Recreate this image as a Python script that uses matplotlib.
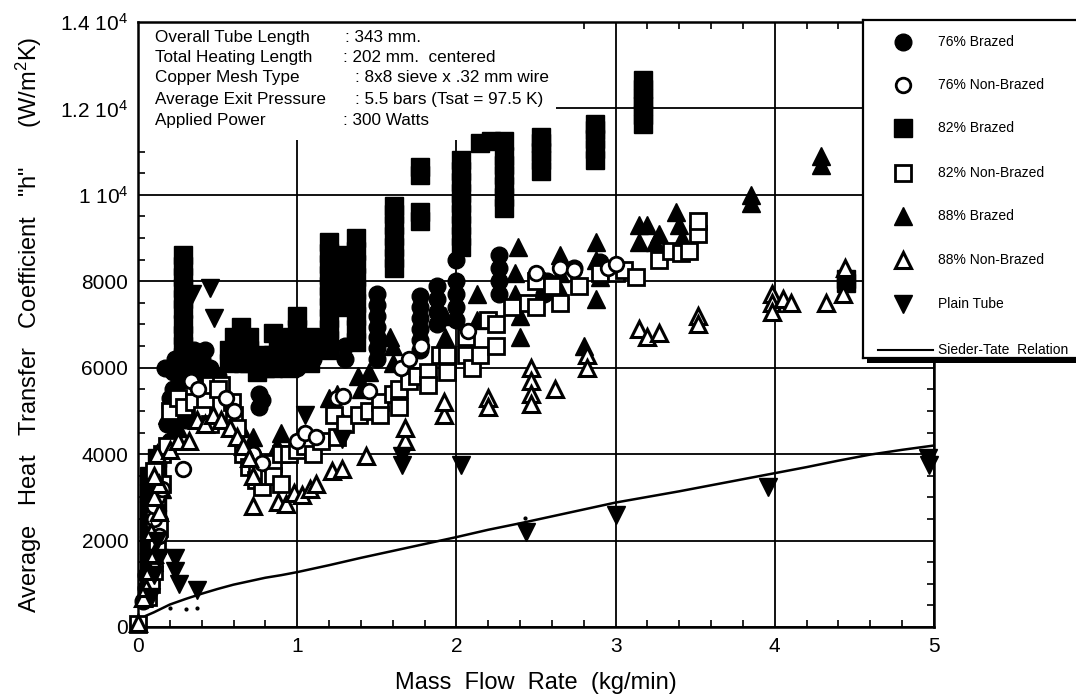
import matplotlib
matplotlib.use("Agg")
import matplotlib.pyplot as plt
from matplotlib.patches import Rectangle

plt.rcParams['font.family'] = ['Liberation Sans', 'DejaVu Sans']
plt.rcParams['mathtext.fontset'] = 'custom'
plt.rcParams['mathtext.rm'] = 'Liberation Sans'
plt.rcParams['mathtext.default'] = 'regular'

# ---- data (x: kg/min, y: W/m2K) ----
b82_x = [0.07, 0.07, 0.07, 0.07, 0.07, 0.07, 0.12, 0.12, 0.12, 0.12, 0.12,
         0.28, 0.28, 0.28, 0.28, 0.28, 0.28, 0.28, 0.28, 0.28, 0.28, 0.28,
         0.57, 0.57, 0.60, 0.65, 0.66, 0.66, 0.62, 0.70, 0.70, 0.70,
         0.75, 0.75, 0.80, 0.80, 0.85, 0.85, 0.85, 0.88, 0.90, 0.90, 0.95, 0.95,
         0.97, 1.00, 1.00, 1.03,
         1.08, 1.08, 1.08,
         1.20, 1.20, 1.20, 1.20, 1.20, 1.20, 1.20, 1.20, 1.20, 1.20, 1.20,
         1.29, 1.29, 1.29, 1.29, 1.29,
         1.37, 1.37, 1.37, 1.37, 1.37, 1.37, 1.37, 1.37, 1.37,
         1.61, 1.61, 1.61, 1.61, 1.61, 1.61, 1.61, 1.77, 1.77, 1.77, 1.77,
         2.03, 2.03, 2.03, 2.03, 2.03, 2.03, 2.03, 2.03, 2.03,
         2.15, 2.22, 2.30, 2.30, 2.30, 2.30, 2.30, 2.30, 2.30,
         2.53, 2.53, 2.53, 2.53, 2.53,
         2.87, 2.87, 2.87, 2.87, 2.87,
         3.17, 3.17, 3.17, 3.17, 3.17, 3.17,
         4.45, 4.45]
b82_y = [1500, 1900, 2300, 2700, 3100, 3500, 2500, 2900, 3300, 3600, 3900,
         6000, 6250, 6500, 6750, 7000, 7350, 7600, 7850, 8100, 8350, 8600,
         6100, 6400, 6700, 6950, 6100, 6400, 6200, 6100, 6400, 6700,
         5900, 6200, 6000, 6300, 6000, 6300, 6800, 6600, 6100, 6400, 6400, 6000,
         6700, 6900, 7200, 6300,
         6100, 6400, 6700,
         6400, 6650, 6900, 7150, 7400, 7650, 7900, 8150, 8400, 8650, 8900,
         7400, 7700, 8000, 8300, 8600,
         6600, 6900, 7200, 7500, 7800, 8100, 8400, 8700, 9000,
         8300, 8550, 8800, 9050, 9300, 9550, 9750, 9400, 9600, 10450, 10650,
         8800, 9050, 9300, 9550, 9800, 10050, 10300, 10550, 10800,
         11200, 11250, 11250, 9700, 9950, 10200, 10450, 10700, 10900,
         10550, 10800, 11000, 11200, 11350,
         10800, 11050, 11300, 11500, 11650,
         11650, 11850, 12050, 12250, 12450, 12650,
         7950, 8050]

b76_x = [0.03, 0.05, 0.05, 0.08, 0.08, 0.10, 0.10, 0.10, 0.12, 0.12,
         0.20, 0.18, 0.20, 0.22, 0.22, 0.23, 0.30, 0.35, 0.40, 0.45, 0.50, 0.27, 0.33, 0.38,
         0.25, 0.28, 0.32, 0.42, 0.36, 0.20, 0.24, 0.30, 0.25, 0.17,
         0.76, 0.76, 0.78,
         0.97, 1.00, 1.05, 1.10, 1.30, 1.30,
         1.50, 1.50, 1.50, 1.50, 1.50, 1.50, 1.50,
         1.77, 1.77, 1.77, 1.77, 1.77, 1.77,
         1.88, 1.88, 1.88, 1.88,
         2.00, 2.00, 2.00, 2.00, 2.00,
         2.27, 2.27, 2.27, 2.27,
         2.55, 2.57, 2.74, 2.90, 2.95]
b76_y = [600, 900, 1200, 1000, 1600, 1400, 1800, 3000, 2300, 3400,
         4300, 4700, 5100, 5500, 5900, 6200, 6300, 6400, 6200, 6000, 5800, 5700, 5200, 5800,
         6000, 6200, 6000, 6400, 6100, 5300, 5200, 4800, 4900, 6000,
         5100, 5400, 5250,
         6200, 6000, 6500, 6200, 6200, 6500,
         6200, 6450, 6700, 6950, 7200, 7450, 7700,
         6400, 6650, 6900, 7150, 7400, 7650,
         7000, 7300, 7600, 7900,
         8500, 8000, 7700, 7400, 7100,
         7700, 8000, 8300, 8600,
         7700, 8000, 8300, 8450, 8200]

b88_x = [0.04, 0.07, 0.10, 0.10, 0.13, 0.15,
         0.20, 0.25, 0.18, 0.65, 0.72, 0.75, 0.87, 0.90,
         1.20, 1.25, 1.25, 1.38, 1.40, 1.45, 1.58, 1.60, 1.60, 1.93, 1.93,
         2.13, 2.13, 2.39, 2.37, 2.37, 2.40, 2.40,
         2.65, 2.65, 2.65, 2.80, 2.88, 2.88, 2.90, 2.88,
         3.15, 3.15, 3.20, 3.25, 3.27, 3.38, 3.40, 3.42,
         3.85, 3.85, 4.29, 4.29]
b88_y = [700, 1100, 1500, 2000, 2700, 3200,
         4400, 4600, 4900, 4600, 4400, 4000, 4200, 4500,
         5300, 5000, 5400, 5800, 5500, 5900, 6700, 6500, 6100, 7200, 6700,
         7700, 7100, 8800, 8200, 7700, 7200, 6700,
         8600, 8200, 7800, 6500, 8900, 8500, 8100, 7600,
         9300, 8900, 9300, 8900, 9100, 9600, 9300, 9000,
         10000, 9800, 10900, 10700]

n76_x = [0.10, 0.12, 0.15, 0.28, 0.10, 0.13, 0.33, 0.38, 0.55, 0.60, 0.72, 0.78,
         1.00, 1.05, 1.12, 1.25, 1.29, 1.45, 1.65, 1.70, 1.78, 2.07,
         2.50, 2.65, 2.74, 2.95, 3.00]
n76_y = [2500, 3000, 3200, 3650, 2800, 2100, 5700, 5500, 5300, 5000, 4000, 3800,
         4300, 4500, 4400, 5300, 5350, 5450, 6000, 6200, 6500, 6850,
         8200, 8300, 8250, 8300, 8400]

n82_x = [0.00, 0.06, 0.08, 0.10, 0.12, 0.10, 0.13, 0.12, 0.15, 0.10, 0.15, 0.18,
         0.20, 0.25, 0.29, 0.35, 0.42, 0.45, 0.52, 0.50, 0.59, 0.40, 0.45, 0.60,
         0.62, 0.66, 0.70, 0.74, 0.78, 0.75,
         0.82, 0.85, 0.85, 0.90, 0.90, 0.95, 1.00, 1.05, 1.10, 1.15, 1.23, 1.25,
         1.30, 1.39, 1.45, 1.52, 1.52, 1.60, 1.64, 1.64, 1.70, 1.75, 1.82, 1.82,
         1.90, 1.94, 1.94, 2.06, 2.06, 2.10, 2.15, 2.20, 2.25, 2.25, 2.35,
         2.45, 2.50, 2.50, 2.60, 2.65, 2.77, 2.90, 3.00, 3.05, 3.13, 3.27,
         3.35, 3.41, 3.46, 3.52, 3.52]
n82_y = [80, 700, 1000, 1300, 1900, 2500, 2300, 3000, 3300, 3600, 4000, 4200,
         5000, 5300, 5100, 5200, 5250, 5600, 5600, 5500, 5200, 4900, 4700, 4900,
         4600, 4000, 3700, 3400, 3250, 3600,
         3500, 3800, 3500, 4000, 3300, 4000, 4100, 4200, 4000, 4300, 4900, 4400,
         4700, 4900, 5000, 5200, 4900, 5400, 5500, 5100, 5700, 5800, 5900, 5600,
         6300, 6300, 5900, 6700, 6300, 6000, 6300, 7100, 7000, 6500, 7400,
         7500, 8000, 7400, 7900, 7500, 7900, 8200, 8200, 8250, 8100, 8500,
         8700, 8650, 8700, 9100, 9400]

n88_x = [0.00, 0.03, 0.05, 0.07, 0.10, 0.08, 0.13, 0.10, 0.13, 0.10, 0.12, 0.20, 0.25, 0.32,
         0.37, 0.42, 0.47, 0.52, 0.58, 0.62, 0.66, 0.70, 0.72, 0.72,
         0.88, 0.93, 0.98, 1.03, 1.08, 1.12, 1.22, 1.28, 1.43, 1.68, 1.68, 1.92, 1.92,
         2.20, 2.20, 2.47, 2.47, 2.47, 2.47, 2.62, 2.82, 2.82,
         3.15, 3.20, 3.27, 3.52, 3.52, 3.98, 3.98, 3.98, 4.05, 4.10, 4.32, 4.43, 4.44]
n88_y = [100, 680, 900, 1300, 1700, 2200, 2650, 3000, 3300, 3500, 4000, 4100, 4300, 4300,
         4800, 4700, 4900, 4800, 4600, 4400, 4200, 3900, 3500, 2800,
         2900, 2850, 3100, 3050, 3200, 3300, 3600, 3650, 3950, 4300, 4600, 4900, 5200,
         5300, 5100, 6000, 5700, 5400, 5150, 5500, 6300, 6000,
         6900, 6700, 6800, 7200, 7000, 7700, 7500, 7300, 7600, 7500, 7500, 7700, 8300]

plain_x = [0.08, 0.10, 0.13, 0.12, 0.23, 0.23, 0.26, 0.37,
           0.34, 0.45, 0.48, 1.05, 1.28, 1.66, 1.66, 2.03,
           2.44, 3.00, 3.96, 4.96, 4.97]
plain_y = [700, 1200, 1600, 2000, 1600, 1300, 1000, 850,
           7700, 7850, 7150, 4900, 4350, 3950, 3750, 3750,
           2200, 2600, 3250, 3900, 3750]

dots_x = [0.20, 0.30, 0.37, 2.43]
dots_y = [450, 420, 430, 2520]

st_x = [0.05, 0.1, 0.2, 0.3, 0.4, 0.5, 0.6, 0.7, 0.8, 0.9, 1.0, 1.2, 1.4, 1.6, 1.8,
        2.0, 2.2, 2.4, 2.6, 2.8, 3.0, 3.2, 3.4, 3.6, 3.8, 4.0, 4.2, 4.4, 4.6, 4.8, 5.0]
st_y = [260, 340, 520, 650, 770, 880, 980, 1060, 1140, 1200, 1270, 1430, 1600, 1760, 1920,
        2080, 2250, 2400, 2560, 2720, 2880, 3010, 3140, 3280, 3420, 3560, 3700, 3850,
        3990, 4100, 4200]

labels = ['76% Brazed', '76% Non-Brazed', '82% Brazed', '82% Non-Brazed',
          '88% Brazed', '88% Non-Brazed', 'Plain Tube']

y_ticks = [0, 2000, 4000, 6000, 8000, 10000, 12000, 14000]
y_ticklabels = ['0', '2000', '4000', '6000', '8000',
                '1 10$^{4}$', '1.2 10$^{4}$', '1.4 10$^{4}$']

info_keys = ['Overall Tube Length', 'Total Heating Length', 'Copper Mesh Type',
             'Average Exit Pressure', 'Applied Power']
info_vals = [': 343 mm.', ': 202 mm.  centered', ': 8x8 sieve x .32 mm wire',
             ': 5.5 bars (Tsat = 97.5 K)', ': 300 Watts']

# marker styles for each series (same order as labels)
styles = [dict(marker='o', ms=12, mfc='black', mec='black', mew=1),
          dict(marker='o', ms=10.5, mfc='white', mec='black', mew=2),
          dict(marker='s', ms=12.5, mfc='black', mec='black', mew=1),
          dict(marker='s', ms=11, mfc='white', mec='black', mew=2),
          dict(marker='^', ms=13, mfc='black', mec='black', mew=1),
          dict(marker='^', ms=12, mfc='white', mec='black', mew=2.2),
          dict(marker='v', ms=13, mfc='black', mec='black', mew=1)]

fig = plt.figure(figsize=(10.76, 6.96), dpi=100)
ax = fig.add_axes([138/1076, 69/696, 796/1076, 605/696])

ax.set_xlim(0, 5)
ax.set_ylim(0, 14000)
ax.set_axisbelow(True)
ax.grid(True, which='major', color='black', lw=1.3)

# draw order: filled first, open symbols on top
order = [(b82_x, b82_y, 2), (b76_x, b76_y, 0), (b88_x, b88_y, 4),
         (n82_x, n82_y, 3), (n76_x, n76_y, 1), (n88_x, n88_y, 5),
         (plain_x, plain_y, 6)]
for i, (xs, ys, k) in enumerate(order):
    ax.plot(xs, ys, ls='none', clip_on=False, zorder=3 + i * 0.1, **styles[k])

ax.plot(dots_x, dots_y, ls='none', marker='o', ms=2, color='black', zorder=4)
ax.plot(st_x, st_y, color='black', lw=1.8, zorder=4)

# white box behind the test conditions
ax.add_patch(Rectangle((0, 0.805), 0.525, 0.195, transform=ax.transAxes,
                       facecolor='white', edgecolor='none', zorder=1))
kx = 0.021
vx = [0.260, 0.258, 0.273, 0.273, 0.258]
ky = [0.9752, 0.9405, 0.9075, 0.8727, 0.8380]
for k, v, x2, yy in zip(info_keys, info_vals, vx, ky):
    ax.text(kx, yy, k, transform=ax.transAxes, fontsize=12.3, va='center', zorder=5)
    ax.text(x2, yy, v, transform=ax.transAxes, fontsize=12.3, va='center', zorder=5)

ax.set_xticks([0, 1, 2, 3, 4, 5])
ax.set_xticks([v / 5 for v in range(26)], minor=True)
ax.set_yticks(y_ticks)
ax.set_yticklabels(y_ticklabels)
ax.set_yticks(list(range(0, 14001, 500)), minor=True)
ax.tick_params(which='both', direction='in', top=True, right=True, labelsize=15)
ax.tick_params(which='major', length=0, pad=7)
ax.tick_params(which='minor', length=5, width=1.2)
for s in ax.spines.values():
    s.set_linewidth(1.8)

ax.set_xlabel('Mass  Flow  Rate  (kg/min)', fontsize=17, labelpad=12)
ax.set_ylabel('Average   Heat   Transfer   Coefficient   "h"      (W/m$^{2}$K)',
              fontsize=17, labelpad=12)

# legend box on the right, drawn over the plot corner
lax = fig.add_axes([863/1076, 338/696, 230/1076, 338/696])
lax.set_xlim(863, 1093)
lax.set_ylim(358, 20)
lax.set_xticks([])
lax.set_yticks([])
lax.set_facecolor('white')
lax.spines['right'].set_visible(False)
for s in ['left', 'top', 'bottom']:
    lax.spines[s].set_linewidth(1.6)
leg_y = [42, 85, 128, 173, 216, 260, 304]
for k, yy in enumerate(leg_y):
    lax.plot([903], [yy], ls='none', **styles[k])
    lax.text(938, yy, labels[k], fontsize=10, va='center')
lax.plot([878, 933], [350, 350], color='black', lw=1.5)
lax.text(938, 350, 'Sieder-Tate  Relation', fontsize=10, va='center')
fig.patches.append(Rectangle((867/1076, (696-363)/696), 1, 5/696,
                             transform=fig.transFigure, facecolor='black',
                             edgecolor='none', zorder=10))

fig.savefig('out.png', dpi=100)
